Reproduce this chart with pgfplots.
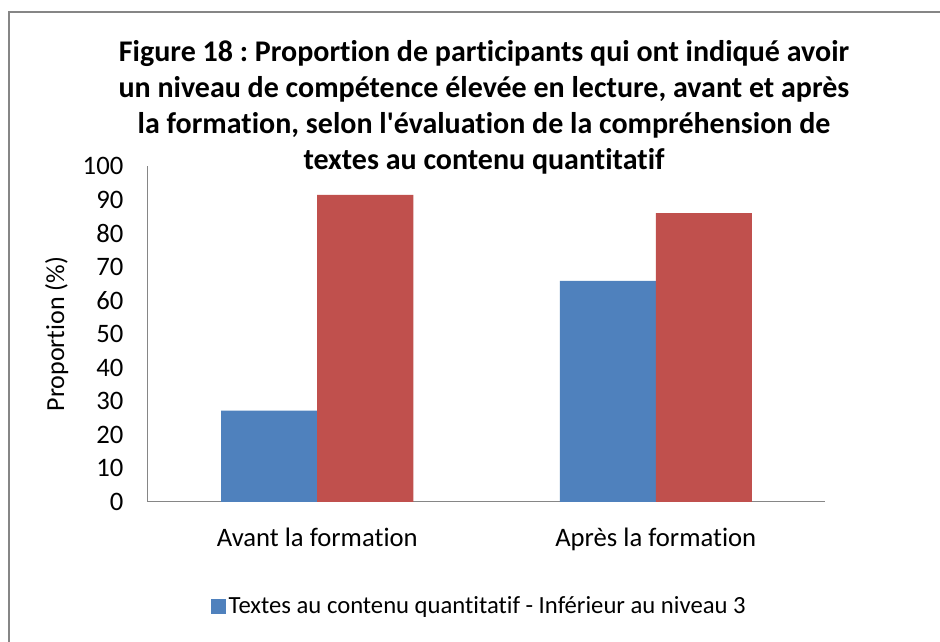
\documentclass[border=0pt]{standalone}
\usepackage{pgfplots}
\pgfplotsset{compat=1.18}
\usepackage{fontspec}
\setmainfont{Carlito}[Ligatures={NoCommon,TeXOff}]
\definecolor{xblue}{HTML}{4F81BD}
\definecolor{xred}{HTML}{C0504D}
\definecolor{xgray}{HTML}{868686}
\frenchspacing
\begin{document}
\begin{tikzpicture}[x=0.75pt,y=0.75pt]
\useasboundingbox (0,0) rectangle (940,642);
\fill[white] (0,0) rectangle (940,642);
\draw[xgray, line width=1.5pt] (9,0) -- (9,630) -- (940,630);
\node[font=\bfseries\fontsize{22.5}{27}\selectfont, align=center] at (484,535)
  {Figure 18 : Proportion de participants qui ont indiqué avoir\\
   un niveau de compétence élevée en lecture, avant et après\\
   la formation, selon l'évaluation de la compréhension de\\
   textes au contenu quantitatif};
\begin{axis}[
  at={(111pt,105pt)}, anchor=south west,
  scale only axis, width=507.75pt, height=252pt,
  ybar=0pt, bar width=72pt,
  xmin=-0.5, xmax=1.5, ymin=0, ymax=100,
  xtick=data, xticklabels={Avant la formation, Après la formation},
  ytick={0,10,...,100},
  axis x line=bottom, axis y line=left,
  axis line style={xgray, line width=0.75pt, -},
  major tick length=0pt,
  tick label style={font=\fontsize{20}{22}\selectfont},
  /pgf/number format/assume math mode=true,
  yticklabel style={xshift=-15pt},
  xticklabel style={yshift=-16pt},
  ylabel={Proportion (\%)},
  ylabel style={font=\fontsize{19.5}{20}\selectfont, yshift=4pt},
  legend style={at={(0.49,-0.31)}, anchor=center, draw=none,
    font=\fontsize{18.5}{20}\selectfont, legend columns=1},
  legend image code/.code={\fill[xblue] (0pt,-5.6pt) rectangle (11.2pt,5.6pt);},
  legend cell align=left,
]
\addplot[fill=xblue, draw=none] coordinates {(0,27.2) (1,65.8)};
\addlegendentry{Textes au contenu quantitatif - Inférieur au niveau 3}
\addplot[fill=xred, draw=none] coordinates {(0,91.4) (1,86.0)};
\end{axis}
\end{tikzpicture}
\end{document}
